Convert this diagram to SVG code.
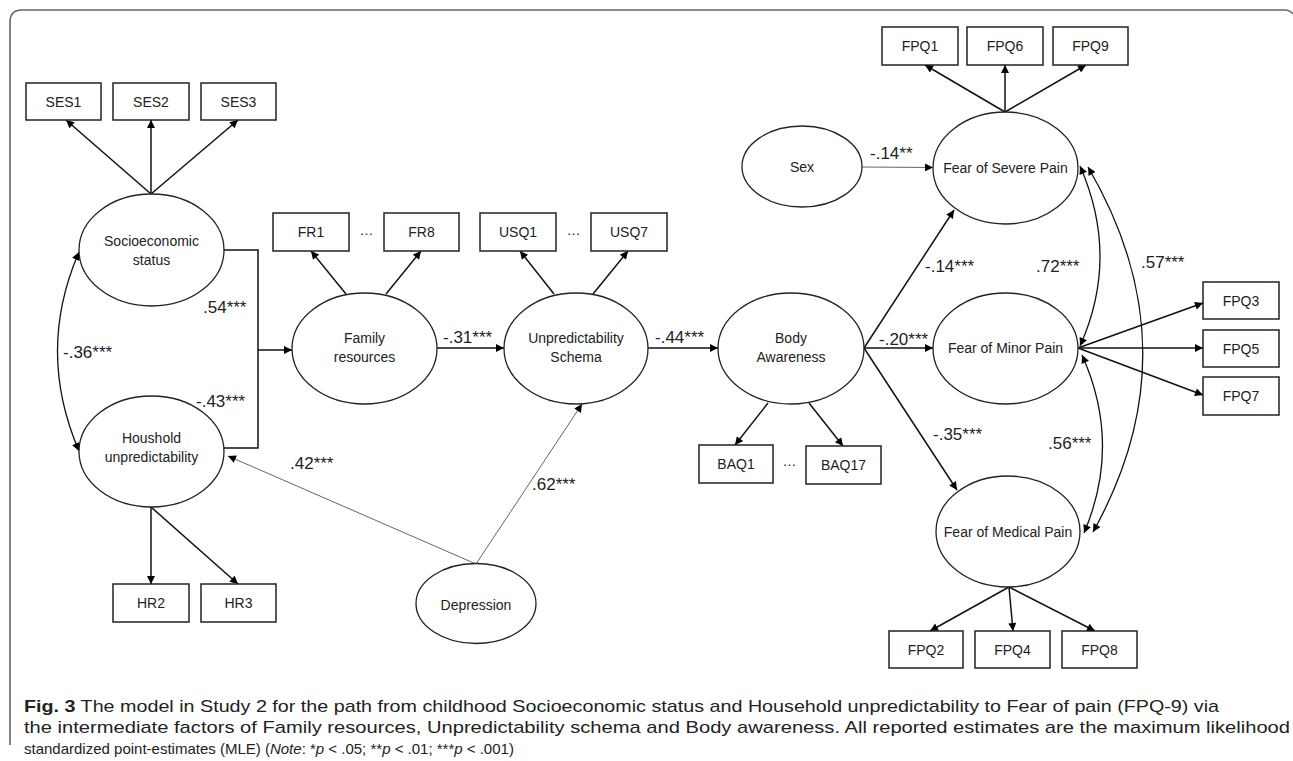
<svg xmlns="http://www.w3.org/2000/svg" width="1293" height="761" viewBox="0 0 1293 761">
<defs>
<marker id="ah" viewBox="0 0 10 10" refX="10" refY="5" markerWidth="9" markerHeight="8" markerUnits="userSpaceOnUse" orient="auto-start-reverse"><path d="M0,0 L10,5 L0,10 z" fill="#000"/></marker>
<style>
.bx{fill:#fff;stroke:#222;stroke-width:1.5}
.el{fill:#fff;stroke:#222;stroke-width:1.3}
.t{font-family:"Liberation Sans",Arial,sans-serif;font-size:14px;fill:#222;text-anchor:middle}
.lb{font-family:"Liberation Sans",Arial,sans-serif;font-size:17px;fill:#222}
.c{fill:none;stroke:#111;stroke-width:1.5;marker-end:url(#ah)}
.th{fill:none;stroke:#666;stroke-width:1;marker-end:url(#ah)}
.cv{fill:none;stroke:#111;stroke-width:1.3;marker-start:url(#ah);marker-end:url(#ah)}
.ln{fill:none;stroke:#111;stroke-width:1.5}
.cap{font-family:"Liberation Sans",Arial,sans-serif;font-size:17px;fill:#222}
.cap3{font-family:"Liberation Sans",Arial,sans-serif;font-size:15px;fill:#222}
</style>
</defs>
<rect width="1293" height="761" fill="#fff"/>
<path d="M10,745 V22 Q10,10 22,10 H1285 Q1290,10 1293,14" fill="none" stroke="#666" stroke-width="1.6"/>

<g id="connectors">
<line class="c" x1="151" y1="194" x2="66" y2="120"/>
<line class="c" x1="151" y1="194" x2="151" y2="120"/>
<line class="c" x1="151" y1="194" x2="238" y2="120"/>
<line class="c" x1="151" y1="507" x2="151" y2="584"/>
<line class="c" x1="151" y1="507" x2="238" y2="584"/>
<path class="cv" d="M79,252 Q36,351 79,451"/>
<path class="ln" d="M224,250 H258 V448 H224"/>
<line class="c" x1="258" y1="350" x2="292" y2="350"/>
<line class="c" x1="346" y1="294" x2="311" y2="251"/>
<line class="c" x1="386" y1="294" x2="421" y2="251"/>
<line class="c" x1="437" y1="348" x2="504" y2="348"/>
<line class="c" x1="554" y1="294" x2="520" y2="251"/>
<line class="c" x1="593" y1="294" x2="628" y2="251"/>
<line class="c" x1="648" y1="348" x2="718" y2="348"/>
<line class="c" x1="768" y1="403" x2="735" y2="445"/>
<line class="c" x1="809" y1="403" x2="843" y2="446"/>
<line class="th" x1="476" y1="564" x2="582" y2="404"/>
<line class="th" x1="476" y1="564" x2="228" y2="456"/>
<line class="th" x1="862" y1="167" x2="933" y2="167.5"/>
<line class="c" x1="864" y1="348" x2="954" y2="210"/>
<line class="c" x1="864" y1="348" x2="933" y2="348"/>
<line class="c" x1="864" y1="348" x2="957" y2="490"/>
<line class="c" x1="1005" y1="112" x2="925" y2="65"/>
<line class="c" x1="1005" y1="112" x2="1005" y2="65"/>
<line class="c" x1="1005" y1="112" x2="1086" y2="65"/>
<line class="c" x1="1078" y1="348" x2="1203" y2="303"/>
<line class="c" x1="1078" y1="348" x2="1203" y2="348"/>
<line class="c" x1="1078" y1="348" x2="1203" y2="395"/>
<line class="c" x1="1009" y1="587" x2="930" y2="631"/>
<line class="c" x1="1009" y1="587" x2="1013" y2="631"/>
<line class="c" x1="1009" y1="587" x2="1095" y2="631"/>
<path class="cv" d="M1080,166 Q1120,257 1080,346"/>
<path class="cv" d="M1088,167 Q1195,350 1093,532"/>
<path class="cv" d="M1082,355 Q1122,444 1084,533"/>
<text class="lb" x="203" y="313">.54***</text>
<text class="lb" x="63" y="358">-.36***</text>
<text class="lb" x="196" y="407">-.43***</text>
<text class="lb" x="443" y="343">-.31***</text>
<text class="lb" x="655" y="343">-.44***</text>
<text class="lb" x="290" y="469">.42***</text>
<text class="lb" x="532" y="490">.62***</text>
<text class="lb" x="870" y="159">-.14**</text>
<text class="lb" x="925" y="272">-.14***</text>
<text class="lb" x="879" y="345">-.20***</text>
<text class="lb" x="933" y="440">-.35***</text>
<text class="lb" x="1036" y="272">.72***</text>
<text class="lb" x="1141" y="268">.57***</text>
<text class="lb" x="1048" y="449">.56***</text>
</g>

<g id="ses1"><rect class="bx" x="26" y="83" width="75" height="37"/><text class="t" x="63.5" y="106.5">SES1</text></g>
<g id="ses2"><rect class="bx" x="113" y="83" width="76" height="37"/><text class="t" x="151" y="106.5">SES2</text></g>
<g id="ses3"><rect class="bx" x="201" y="83" width="75" height="37"/><text class="t" x="238.5" y="106.5">SES3</text></g>
<g id="ses"><ellipse class="el" cx="151.5" cy="250" rx="72.5" ry="56"/><text class="t" x="151.5" y="246">Socioeconomic</text><text class="t" x="151.5" y="265">status</text></g>
<g id="household"><ellipse class="el" cx="151.5" cy="451.5" rx="72.5" ry="55.5"/><text class="t" x="151.5" y="443">Houshold</text><text class="t" x="151.5" y="462">unpredictability</text></g>
<g id="hr2"><rect class="bx" x="113" y="584" width="76" height="38"/><text class="t" x="151" y="608">HR2</text></g>
<g id="hr3"><rect class="bx" x="201" y="584" width="75" height="38"/><text class="t" x="238.5" y="608">HR3</text></g>
<g id="fr1"><rect class="bx" x="273" y="213" width="76" height="38"/><text class="t" x="311" y="237">FR1</text></g>
<g id="fr-dots"><text class="t" x="366.5" y="235">…</text></g>
<g id="fr8"><rect class="bx" x="384" y="213" width="75" height="38"/><text class="t" x="421.5" y="237">FR8</text></g>
<g id="family"><ellipse class="el" cx="364.5" cy="348.5" rx="72.5" ry="55.5"/><text class="t" x="364.5" y="343">Family</text><text class="t" x="364.5" y="362">resources</text></g>
<g id="usq1"><rect class="bx" x="480" y="213" width="76" height="38"/><text class="t" x="518" y="237">USQ1</text></g>
<g id="usq-dots"><text class="t" x="573.5" y="235">…</text></g>
<g id="usq7"><rect class="bx" x="591" y="213" width="76" height="38"/><text class="t" x="629" y="237">USQ7</text></g>
<g id="unpred"><ellipse class="el" cx="576" cy="348.5" rx="72" ry="55.5"/><text class="t" x="576" y="343">Unpredictability</text><text class="t" x="576" y="362">Schema</text></g>
<g id="body"><ellipse class="el" cx="791" cy="348.5" rx="73" ry="55.5"/><text class="t" x="791" y="343">Body</text><text class="t" x="791" y="362">Awareness</text></g>
<g id="baq1"><rect class="bx" x="699" y="445" width="74" height="38"/><text class="t" x="736" y="469">BAQ1</text></g>
<g id="baq-dots"><text class="t" x="789.5" y="466">…</text></g>
<g id="baq17"><rect class="bx" x="806" y="446" width="75" height="38"/><text class="t" x="843.5" y="470">BAQ17</text></g>
<g id="depression"><ellipse class="el" cx="476" cy="603.5" rx="60" ry="40"/><text class="t" x="476" y="610">Depression</text></g>
<g id="sex"><ellipse class="el" cx="802" cy="166.5" rx="60" ry="40.5"/><text class="t" x="802" y="172">Sex</text></g>
<g id="severe"><ellipse class="el" cx="1005.5" cy="168" rx="72.5" ry="56"/><text class="t" x="1005.5" y="172.5">Fear of Severe Pain</text></g>
<g id="minor"><ellipse class="el" cx="1005.5" cy="348.5" rx="72.5" ry="55.5"/><text class="t" x="1005.5" y="353">Fear of Minor Pain</text></g>
<g id="medical"><ellipse class="el" cx="1008" cy="531.5" rx="72" ry="55.5"/><text class="t" x="1008" y="537">Fear of Medical Pain</text></g>
<g id="fpq1"><rect class="bx" x="882" y="27" width="76" height="38"/><text class="t" x="920" y="51">FPQ1</text></g>
<g id="fpq6"><rect class="bx" x="967" y="27" width="76" height="38"/><text class="t" x="1005" y="51">FPQ6</text></g>
<g id="fpq9"><rect class="bx" x="1053" y="27" width="75" height="38"/><text class="t" x="1090.5" y="51">FPQ9</text></g>
<g id="fpq3"><rect class="bx" x="1203" y="282" width="76" height="37"/><text class="t" x="1241" y="305.5">FPQ3</text></g>
<g id="fpq5"><rect class="bx" x="1203" y="330" width="76" height="37"/><text class="t" x="1241" y="353.5">FPQ5</text></g>
<g id="fpq7"><rect class="bx" x="1203" y="377" width="76" height="38"/><text class="t" x="1241" y="401">FPQ7</text></g>
<g id="fpq2"><rect class="bx" x="889" y="631" width="74" height="37"/><text class="t" x="926" y="654.5">FPQ2</text></g>
<g id="fpq4"><rect class="bx" x="975" y="631" width="75" height="37"/><text class="t" x="1012.5" y="654.5">FPQ4</text></g>
<g id="fpq8"><rect class="bx" x="1062" y="631" width="75" height="37"/><text class="t" x="1099.5" y="654.5">FPQ8</text></g>

<g id="caption">
<text class="cap" x="24" y="712" textLength="1195" lengthAdjust="spacingAndGlyphs"><tspan font-weight="bold">Fig. 3</tspan>  The model in Study 2 for the path from childhood Socioeconomic status and Household unpredictability to Fear of pain (FPQ-9) via</text>
<text class="cap" x="24" y="733" textLength="1266" lengthAdjust="spacingAndGlyphs">the intermediate factors of Family resources, Unpredictability schema and Body awareness. All reported estimates are the maximum likelihood</text>
<text class="cap3" x="24" y="754">standardized point-estimates (MLE) (<tspan font-style="italic">Note</tspan>: *<tspan font-style="italic">p</tspan> &lt; .05; **<tspan font-style="italic">p</tspan> &lt; .01; ***<tspan font-style="italic">p</tspan> &lt; .001)</text>
</g>
</svg>
